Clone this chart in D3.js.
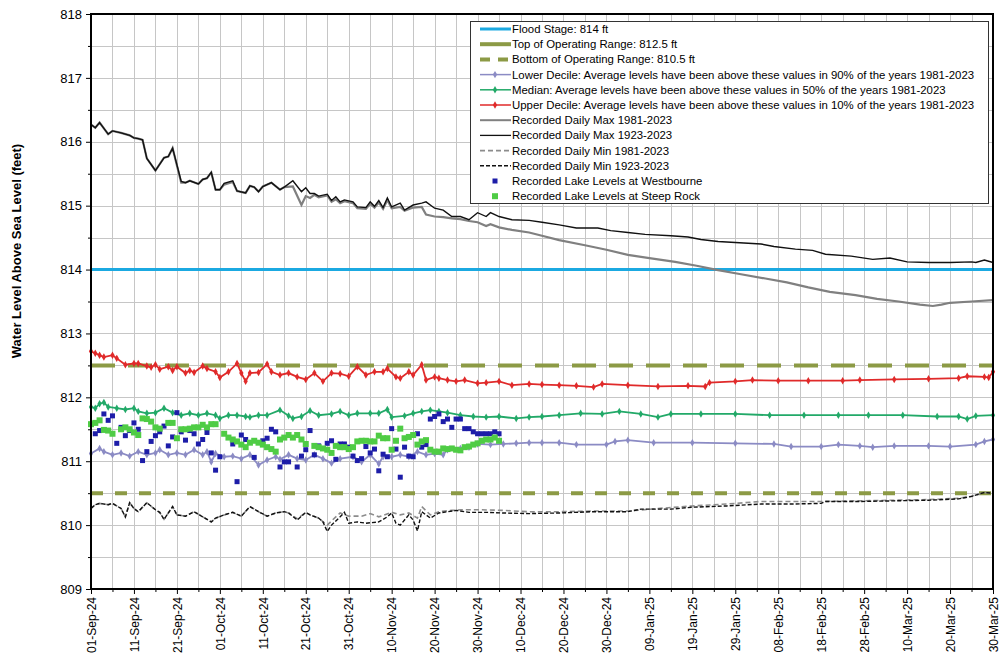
<!DOCTYPE html>
<html lang="en">
<head>
<meta charset="utf-8">
<title>Lake Water Levels</title>
<script src="https://cdnjs.cloudflare.com/ajax/libs/d3/7.8.5/d3.min.js"></script>
<style>
  body { margin: 0; background: #fff; font-family: Arial, "Liberation Sans", sans-serif; }
</style>
</head>
<body>
<div id="chart"></div>
<script>
// day offsets are counted from 01-Sep-2024
const tickLabels = ["01-Sep-24","11-Sep-24","21-Sep-24","01-Oct-24","11-Oct-24","21-Oct-24","31-Oct-24",
  "10-Nov-24","20-Nov-24","30-Nov-24","10-Dec-24","20-Dec-24","30-Dec-24","09-Jan-25","19-Jan-25",
  "29-Jan-25","08-Feb-25","18-Feb-25","28-Feb-25","10-Mar-25","20-Mar-25","30-Mar-25"];
const yTicks = [809, 810, 811, 812, 813, 814, 815, 816, 817, 818];

const floodStage = 814;
const topOperating = 812.5;
const bottomOperating = 810.5;

const max1923Days = [0,1,2,4,5,7,9,10,11,12,13,15,17,18,19,21,22,23,25,26,27,28,29,30,31,33,34,36,37,38,39,40,42,44,45,47,49,50,51,52,53,55,56,57,58,59,61,62,64,65,66,67,68,69,70,72,73,75,77,78,80,82,84,86,88,90,92,93,95,98,102,105,109,113,118,121,125,129,135,139,142,146,151,156,159,164,168,171,177,182,186,190,195,200,205,206,208,210];
const max1923 = [816.27,816.22,816.30,816.12,816.17,816.14,816.10,816.06,816.05,816.03,815.74,815.55,815.75,815.77,815.90,815.38,815.36,815.39,815.34,815.41,815.43,815.52,815.25,815.25,815.35,815.39,815.23,815.20,815.31,815.29,815.22,815.30,815.36,815.25,815.29,815.39,815.22,815.28,815.19,815.19,815.15,815.18,815.08,815.14,815.06,815.09,815.06,814.98,814.97,815.06,814.99,815.08,814.97,815.12,814.98,815.04,814.93,815.01,815.04,815.06,814.96,814.93,814.83,814.83,814.78,814.89,814.83,814.89,814.83,814.78,814.77,814.74,814.70,814.65,814.65,814.61,814.58,814.55,814.53,814.51,814.47,814.44,814.42,814.40,814.36,814.32,814.30,814.24,814.21,814.16,814.18,814.12,814.11,814.11,814.12,814.11,814.15,814.11];

const max1981Days = [0,1,2,4,5,7,9,10,11,12,13,15,17,18,19,21,22,23,25,26,27,28,29,30,31,33,34,36,37,38,39,40,42,44,45,47,49,50,51,52,53,55,56,57,58,59,61,62,64,65,66,67,68,69,70,72,73,75,77,78,80,82,84,86,88,90,92,93,95,98,102,105,109,115,120,125,130,136,141,146,151,157,162,167,172,178,183,188,193,196,198,200,205,210];
const max1981 = [816.27,816.22,816.30,816.12,816.17,816.14,816.10,816.06,816.05,816.03,815.74,815.55,815.75,815.77,815.90,815.36,815.36,815.39,815.34,815.41,815.43,815.52,815.25,815.25,815.33,815.37,815.23,815.20,815.31,815.29,815.22,815.30,815.36,815.25,815.29,815.30,815.01,815.15,815.12,815.17,815.13,815.16,815.06,815.10,815.04,815.07,815.04,814.96,814.95,815.03,814.97,815.05,814.95,815.09,814.96,814.98,814.92,814.97,814.98,814.86,814.83,814.82,814.80,814.79,814.76,814.74,814.68,814.71,814.66,814.62,814.58,814.53,814.46,814.38,814.31,814.23,814.18,814.12,814.06,813.99,813.93,813.86,813.80,813.72,813.65,813.60,813.54,813.50,813.45,813.43,813.45,813.48,813.50,813.52];

const upperDays = [0,1,2,3,5,6,8,10,11,13,14,15,16,18,19,20,22,23,24,26,27,29,30,32,34,35,36,37,39,41,42,44,46,48,50,52,54,56,58,60,62,64,66,68,69,71,72,74,75,77,78,80,81,83,85,87,90,92,95,98,102,105,109,113,117,119,125,132,139,143,144,150,154,160,167,175,179,187,195,202,204,208,209,210];
const upperDecile = [812.72,812.69,812.66,812.63,812.66,812.61,812.51,812.53,812.53,812.49,812.47,812.51,812.44,812.48,812.42,812.48,812.38,812.42,812.39,812.49,812.45,812.40,812.31,812.40,812.53,812.38,812.25,812.38,812.39,812.52,812.40,812.35,812.38,812.32,812.28,812.38,812.25,812.38,812.37,812.33,812.48,812.35,812.40,812.40,812.45,812.32,812.30,812.40,812.35,812.51,812.27,812.32,812.30,812.27,812.25,812.27,812.22,812.23,812.25,812.19,812.21,812.20,812.19,812.18,812.16,812.21,812.19,812.17,812.18,812.17,812.23,812.25,812.27,812.26,812.26,812.26,812.27,812.28,812.29,812.30,812.33,812.32,812.31,812.40];

const medianDays = [0,1,2,3,4,6,8,10,11,13,15,17,19,21,23,25,27,29,30,32,34,36,37,39,41,44,46,47,49,51,53,56,58,60,62,65,67,69,70,73,75,77,79,81,83,86,89,92,95,99,102,105,109,114,119,123,128,132,135,142,150,158,166,174,181,189,197,202,204,206,210];
const medianDecile = [811.85,811.83,811.90,811.92,811.85,811.83,811.81,811.83,811.78,811.75,811.76,811.83,811.76,811.72,811.75,811.72,811.75,811.72,811.67,811.72,811.72,811.70,811.69,811.72,811.72,811.80,811.71,811.67,811.70,811.79,811.72,811.74,811.78,811.72,811.75,811.75,811.75,811.81,811.69,811.71,811.75,811.78,811.80,811.78,811.76,811.72,811.70,811.69,811.70,811.67,811.69,811.70,811.72,811.75,811.74,811.78,811.74,811.69,811.74,811.74,811.74,811.72,811.72,811.72,811.72,811.72,811.70,811.70,811.66,811.71,811.72];

const lowerDays = [0,2,3,5,7,9,11,13,15,16,18,20,22,24,26,27,28,29,31,33,35,37,39,41,43,44,46,48,50,52,54,56,58,61,63,65,67,68,70,72,74,76,78,80,82,83,86,88,90,93,96,99,102,105,109,113,120,122,125,131,140,150,159,163,170,174,179,182,187,195,200,206,208,210];
const lowerDecile = [811.12,811.20,811.15,811.10,811.13,811.08,811.15,811.10,811.13,811.18,811.10,811.13,811.10,811.18,811.10,811.15,810.99,811.12,811.07,811.08,811.04,811.10,810.94,811.02,811.07,811.03,811.10,811.04,811.02,811.10,811.04,810.97,811.04,811.07,810.99,811.10,810.96,811.07,811.07,811.10,811.07,811.15,811.10,811.12,811.10,811.18,811.20,811.22,811.27,811.26,811.27,811.28,811.29,811.29,811.29,811.26,811.26,811.31,811.33,811.29,811.29,811.28,811.27,811.23,811.23,811.26,811.24,811.22,811.24,811.24,811.23,811.26,811.31,811.34];

const min1923Days = [0,1,2,4,5,7,8,9,10,11,13,15,16,17,19,20,22,24,26,28,29,31,33,35,37,39,41,43,45,46,48,50,51,53,54,55,56,58,59,60,62,64,67,69,70,71,72,74,75,76,77,78,79,81,83,85,88,92,96,102,109,117,125,128,135,140,148,156,163,170,171,179,187,195,202,205,208,210];
const min1923 = [810.26,810.32,810.34,810.32,810.34,810.26,810.13,810.35,810.26,810.21,810.35,810.24,810.20,810.09,810.29,810.16,810.14,810.21,810.13,810.05,810.11,810.16,810.20,810.14,810.29,810.21,810.14,810.19,810.21,810.19,810.08,810.20,810.16,810.11,810.05,809.90,810.00,810.13,810.20,810.03,810.05,810.03,810.05,810.13,810.19,810.03,810.00,810.16,810.08,809.91,810.21,810.16,810.11,810.19,810.21,810.23,810.20,810.20,810.19,810.18,810.19,810.21,810.21,810.25,810.25,810.28,810.30,810.33,810.33,810.34,810.37,810.37,810.38,810.39,810.41,810.45,810.51,810.50];

const min1981Days = [0,1,2,4,5,7,8,9,10,11,13,15,16,17,19,20,22,24,26,28,29,31,33,35,37,39,41,43,45,46,48,50,51,53,55,57,58,60,63,65,67,70,72,74,76,77,79,81,84,86,91,96,102,109,117,125,132,140,148,156,163,170,179,187,195,202,205,208,210];
const min1981 = [810.26,810.32,810.34,810.32,810.34,810.26,810.13,810.35,810.26,810.21,810.35,810.24,810.20,810.09,810.29,810.16,810.14,810.21,810.13,810.05,810.11,810.16,810.20,810.14,810.29,810.21,810.14,810.19,810.21,810.19,810.10,810.20,810.16,810.11,810.00,810.13,810.19,810.14,810.14,810.18,810.13,810.20,810.16,810.19,810.11,810.29,810.16,810.21,810.23,810.24,810.24,810.23,810.21,810.21,810.22,810.22,810.26,810.30,810.33,810.37,810.37,810.37,810.38,810.39,810.40,810.42,810.45,810.51,810.50];

const westDays = [1,2,3,4,5,6,7,8,9,10,11,12,13,14,15,16,17,18,19,20,21,22,23,24,25,26,27,28,29,30,33,34,35,36,38,40,41,42,43,44,45,46,48,49,50,51,52,53,55,56,57,58,59,60,61,62,63,64,65,66,67,68,69,70,71,72,73,74,75,76,77,78,79,80,81,82,83,84,85,86,87,88,89,90,91,92,93,94,95];
const westbourne = [811.43,811.48,811.74,811.64,811.71,811.28,811.53,811.40,811.48,811.60,811.50,811.01,811.15,811.31,811.40,811.46,811.55,811.24,811.38,811.76,811.46,811.33,811.48,811.43,811.27,811.34,811.45,811.13,810.86,811.07,811.27,810.68,811.41,811.34,811.06,811.32,811.36,811.50,811.46,810.91,810.99,810.99,810.91,811.08,811.18,811.48,811.10,811.24,811.28,811.32,811.03,811.27,811.27,811.22,811.08,811.01,811.04,811.23,811.13,811.19,810.85,811.11,811.07,811.51,811.19,810.75,811.22,811.08,811.07,811.43,811.22,811.26,811.66,811.70,811.74,811.62,811.66,811.53,811.66,811.66,811.51,811.51,811.46,811.43,811.43,811.43,811.43,811.46,811.43];

const steepDays = [0,1,2,3,4,5,7,8,9,10,11,12,13,14,15,16,18,19,20,21,22,23,24,25,26,27,28,29,31,32,33,34,35,36,37,38,39,40,41,42,43,44,45,46,47,48,49,50,52,53,54,55,56,57,58,59,60,61,62,63,64,65,66,67,68,69,70,71,72,73,74,75,76,77,78,79,80,81,82,83,84,85,86,87,88,89,90,91,92,93,94,95];
const steepRock = [811.58,811.60,811.64,811.49,811.48,811.43,811.50,811.53,811.50,811.45,811.41,811.67,811.66,811.62,811.53,811.51,811.60,811.60,811.36,811.50,811.50,811.51,811.53,811.53,811.57,811.53,811.58,811.58,811.43,811.37,811.34,811.31,811.26,811.22,811.29,811.32,811.29,811.26,811.22,811.19,811.15,811.34,811.37,811.41,811.37,811.41,811.34,811.27,811.24,811.22,811.20,811.18,811.13,811.24,811.22,811.22,811.19,811.22,811.31,811.32,811.32,811.31,811.31,811.40,811.36,811.36,811.18,811.32,811.51,811.36,811.38,811.41,811.26,811.31,811.33,811.18,811.15,811.15,811.20,811.19,811.20,811.18,811.17,811.22,811.23,811.26,811.28,811.32,811.34,811.34,811.37,811.32];

const legendLabels = ["Flood Stage: 814 ft","Top of Operating Range: 812.5 ft","Bottom of Operating Range: 810.5 ft",
  "Lower Decile: Average levels have been above these values in 90% of the years 1981-2023",
  "Median: Average levels have been above these values in 50% of the years 1981-2023",
  "Upper Decile: Average levels have been above these values in 10% of the years 1981-2023",
  "Recorded Daily Max 1981-2023","Recorded Daily Max 1923-2023","Recorded Daily Min 1981-2023",
  "Recorded Daily Min 1923-2023","Recorded Lake Levels at Westbourne","Recorded Lake Levels at Steep Rock"];

const W = 1002, H = 667;
const mLeft = 91, mRight = 993, mTop = 14, mBottom = 589;

const parseTick = d3.timeParse("%d-%b-%y");
const start = parseTick(tickLabels[0]);
const end = parseTick(tickLabels[tickLabels.length - 1]);
const toDate = d => d3.timeDay.offset(start, d);
const pts = (days, vals) => days.map((d, i) => ({date: toDate(d), v: vals[i]}));

const x = d3.scaleTime().domain([start, end]).range([mLeft, mRight]);
const y = d3.scaleLinear().domain([809, 818]).range([mBottom, mTop]);

const svg = d3.select("#chart").append("svg").attr("width", W).attr("height", H);

// grid
const grid = svg.append("g").attr("stroke", "#c6c6c6").attr("stroke-width", 1);
grid.selectAll(".vg").data(d3.range(5, 210, 5)).enter().append("line")
  .attr("x1", d => Math.round(x(toDate(d))) + 0.5).attr("x2", d => Math.round(x(toDate(d))) + 0.5)
  .attr("y1", mTop).attr("y2", mBottom);
grid.selectAll(".hg").data(d3.range(809.5, 818, 0.5)).enter().append("line")
  .attr("y1", d => Math.round(y(d)) + 0.5).attr("y2", d => Math.round(y(d)) + 0.5)
  .attr("x1", mLeft).attr("x2", mRight);

const colors = {
  flood: "#1ba9e1", operating: "#8c9a45", lower: "#8b8bc4", median: "#22a968", upper: "#e02a2a",
  max1981: "#808080", max1923: "#111", min1981: "#8c8c8c", min1923: "#111", west: "#1d1da8", steep: "#4fcc45"
};

// reference levels
const hline = (v, col, w, dash) => svg.append("line")
  .attr("x1", mLeft).attr("x2", mRight).attr("y1", y(v)).attr("y2", y(v))
  .attr("stroke", col).attr("stroke-width", w).attr("stroke-dasharray", dash);
hline(floodStage, colors.flood, 3, null);
hline(topOperating, colors.operating, 4, "24,13");
hline(bottomOperating, colors.operating, 4, "12,12");

const line = d3.line().x(d => x(d.date)).y(d => y(d.v));
const diamond = d3.symbol().type(d3.symbolDiamond).size(16);

function decile(data, col) {
  svg.append("path").datum(data).attr("d", line).attr("fill", "none")
    .attr("stroke", col).attr("stroke-width", 1.8);
  svg.append("g").selectAll("path").data(data).enter().append("path")
    .attr("d", diamond).attr("transform", d => `translate(${x(d.date)},${y(d.v)})`)
    .attr("fill", col);
}
decile(pts(lowerDays, lowerDecile), colors.lower);
decile(pts(medianDays, medianDecile), colors.median);
decile(pts(upperDays, upperDecile), colors.upper);

svg.append("path").datum(pts(max1981Days, max1981)).attr("d", line).attr("fill", "none")
  .attr("stroke", colors.max1981).attr("stroke-width", 2.2);
svg.append("path").datum(pts(max1923Days, max1923)).attr("d", line).attr("fill", "none")
  .attr("stroke", colors.max1923).attr("stroke-width", 1.4);
svg.append("path").datum(pts(min1981Days, min1981)).attr("d", line).attr("fill", "none")
  .attr("stroke", colors.min1981).attr("stroke-width", 1.6).attr("stroke-dasharray", "5,3");
svg.append("path").datum(pts(min1923Days, min1923)).attr("d", line).attr("fill", "none")
  .attr("stroke", colors.min1923).attr("stroke-width", 1.4).attr("stroke-dasharray", "4,2");

svg.append("g").selectAll("rect").data(pts(westDays, westbourne)).enter().append("rect")
  .attr("x", d => x(d.date) - 2.5).attr("y", d => y(d.v) - 2.5).attr("width", 5).attr("height", 5)
  .attr("fill", colors.west);
svg.append("g").selectAll("rect").data(pts(steepDays, steepRock)).enter().append("rect")
  .attr("x", d => x(d.date) - 3).attr("y", d => y(d.v) - 3).attr("width", 6).attr("height", 6)
  .attr("fill", colors.steep);

// plot border
svg.append("rect").attr("x", mLeft).attr("y", mTop).attr("width", mRight - mLeft).attr("height", mBottom - mTop)
  .attr("fill", "none").attr("stroke", "#000").attr("stroke-width", 2);

// axes
const yAxis = svg.append("g").attr("transform", `translate(${mLeft},0)`)
  .call(d3.axisLeft(y).tickValues(yTicks).tickSize(5).tickPadding(4).tickFormat(d3.format("d")));
yAxis.select(".domain").remove();
yAxis.selectAll("text").attr("font-size", 13).attr("font-family", "Arial, 'Liberation Sans', sans-serif").attr("fill", "#000");
const yMinor = svg.append("g").attr("transform", `translate(${mLeft},0)`)
  .call(d3.axisLeft(y).tickValues(d3.range(809.5, 818, 1)).tickSize(3).tickFormat(""));
yMinor.select(".domain").remove();

const xAxis = svg.append("g").attr("transform", `translate(0,${mBottom})`)
  .call(d3.axisBottom(x).tickValues(tickLabels.map(parseTick)).tickSize(5)
    .tickFormat(d3.timeFormat("%d-%b-%y")));
xAxis.select(".domain").remove();
xAxis.selectAll("text").attr("transform", "rotate(-90)").attr("x", -8).attr("y", 0).attr("dy", "0.35em")
  .style("text-anchor", "end").attr("font-size", 12).attr("font-family", "Arial, 'Liberation Sans', sans-serif").attr("fill", "#000");
const xMinor = svg.append("g").attr("transform", `translate(0,${mBottom})`)
  .call(d3.axisBottom(x).tickValues(d3.range(5, 210, 10).map(toDate)).tickSize(3).tickFormat(""));
xMinor.select(".domain").remove();

svg.append("text").attr("transform", `translate(21,251) rotate(-90)`).attr("text-anchor", "middle")
  .attr("font-size", 13).attr("font-weight", "bold").text("Water Level Above Sea Level (feet)");

// legend
const lg = svg.append("g").attr("font-size", 11.4);
lg.append("rect").attr("x", 470.5).attr("y", 21.5).attr("width", 518).attr("height", 182)
  .attr("fill", "#fff").attr("stroke", "#333").attr("stroke-width", 1);
const rowY = i => 29 + i * 15.2;
const styles = [
  {col: colors.flood, w: 3}, {col: colors.operating, w: 4}, {col: colors.operating, w: 4, dash: "10,8"},
  {col: colors.lower, w: 1.5, mark: true}, {col: colors.median, w: 1.5, mark: true}, {col: colors.upper, w: 1.5, mark: true},
  {col: colors.max1981, w: 2}, {col: colors.max1923, w: 1.3}, {col: colors.min1981, w: 1.6, dash: "5,3"},
  {col: colors.min1923, w: 1.4, dash: "4,2"}, {col: colors.west, sq: 5}, {col: colors.steep, sq: 6}
];
legendLabels.forEach((label, i) => {
  const s = styles[i], cy = rowY(i);
  if (s.sq) {
    lg.append("rect").attr("x", 495 - s.sq / 2).attr("y", cy - s.sq / 2).attr("width", s.sq).attr("height", s.sq).attr("fill", s.col);
  } else {
    lg.append("line").attr("x1", 480).attr("x2", 511).attr("y1", cy).attr("y2", cy)
      .attr("stroke", s.col).attr("stroke-width", s.w).attr("stroke-dasharray", s.dash || null);
    if (s.mark) lg.append("path").attr("d", diamond).attr("transform", `translate(495,${cy})`).attr("fill", s.col);
  }
  lg.append("text").attr("x", 512).attr("y", cy).attr("dy", "0.35em").text(label);
});
</script>
</body>
</html>
